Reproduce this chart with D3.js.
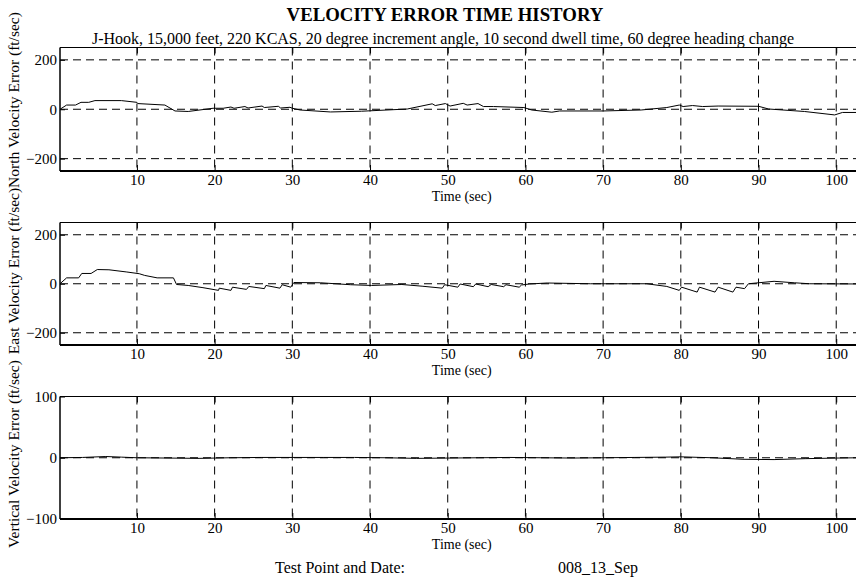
<!DOCTYPE html>
<html>
<head>
<meta charset="utf-8">
<script src="https://cdn.jsdelivr.net/npm/d3@7/dist/d3.min.js"></script>
<style>
  html, body { margin: 0; padding: 0; background: #fff; }
  svg { display: block; font-family: "Liberation Serif", "Times New Roman", serif; }
</style>
</head>
<body>
<svg id="chart" width="856" height="582"></svg>
<script>
// Time axis ticks (sec)
const timeTicks = [10, 20, 30, 40, 50, 60, 70, 80, 90, 100];

// North velocity error (ft/sec) vs time (sec)
const northTime  = [0.1, 0.95, 2.1, 2.8, 3.8, 4.6, 8.0, 10.0, 10.1, 13.6, 14.9, 16.6, 19.8,
  21.1, 22.1, 22.5, 23.9, 24.3, 26.1, 26.4, 28.2, 28.5, 29.7, 30.0, 31.0, 34.9, 38.9, 44.8, 48.0,
  48.4, 49.7, 50.3, 52.0, 52.5, 53.9, 54.6, 55.9, 59.8, 60.8, 63.4, 64.4, 70.0, 74.9, 78.2, 79.8,
  80.3, 81.5, 82.8, 84.8, 90.0, 91.3, 95.9, 99.8, 100.8, 103];
const northError = [0, 17, 17, 28, 28, 35, 35, 28, 23, 17, -7, -9, 4,
  4, 9, 4, 11, 5, 13, 7, 12, 5, 8, 4, -3, -11, -8, 1, 22,
  15, 23, 13, 24, 17, 23, 11, 11, 7, -3, -12, -7, -7, -3, 7, 17,
  11, 15, 11, 13, 12, 1, -9, -23, -13, -13];

// East velocity error (ft/sec) vs time (sec)
const eastTime  = [0.1, 0.95, 2.5, 2.9, 4.1, 4.9, 6.4, 8.7, 10.3, 11.0, 12.6, 14.7, 15.1, 16.6, 18.5, 20.5,
  20.6, 22.1, 22.3, 24.1, 24.4, 26.4, 26.6, 28.4, 28.7, 29.8, 30.2, 33.6, 37.5, 40.2, 44.1, 46.7, 49.3,
  49.6, 51.3, 51.6, 53.3, 53.6, 55.2, 55.6, 57.2, 57.5, 59.2, 59.5, 60.5, 62.8, 68.4, 75.6, 78.2, 79.8,
  80.1, 82.1, 82.4, 84.4, 84.8, 86.7, 87.1, 88.2, 88.7, 90.0, 92.0, 94.6, 96.6, 103];
const eastError = [0, 24, 24, 42, 42, 58, 57, 48, 41, 34, 24, 24, -3, -7, -16, -27,
  -18, -27, -14, -23, -11, -20, -7, -18, -4, -14, 5, 4, -4, -7, -3, -10, -18,
  -4, -14, -1, -12, -1, -12, -3, -12, -4, -14, -5, -1, 3, 0, 0, -11, -27,
  -14, -34, -14, -34, -14, -34, -14, -20, 0, 4, 10, 4, 0, -1];

// Vertical velocity error (ft/sec) vs time (sec)
const vertTime  = [0.1, 3, 6, 8, 10, 14, 18, 22, 26, 30, 34, 38, 42, 46, 50, 54, 58, 62, 66, 70,
  74, 78, 80, 84, 88, 92, 96, 100, 103];
const vertError = [0, 0.5, 2, 1, 0, -0.5, -1, 0, 0.5, 0.5, 0.5, 0.5, 0, -1, -0.5, 0, 0.5, 0, -0.5, 0,
  0.5, 1, 1.5, 0, -2.5, -3, -1.5, -0.5, 0];

const northTicks = [200, 0, -200];
const eastTicks  = [200, 0, -200];
const vertTicks  = [100, 0, -100];

const titleText    = "VELOCITY ERROR TIME HISTORY";
const subtitleText = "J-Hook, 15,000 feet, 220 KCAS, 20 degree increment angle, 10 second dwell time, 60 degree heading change";
const footLabel    = "Test Point and Date:";
const footValue    = "008_13_Sep";

const svg = d3.select("#chart");
const W = 856;

const x = d3.scaleLinear().domain([0.1, 103]).range([60, 60 + 102.9 * 7.77]);

svg.append("text")
  .attr("x", 445).attr("y", 21)
  .attr("text-anchor", "middle")
  .attr("font-weight", "bold")
  .attr("font-size", 18.8)
  .text(titleText);

svg.append("text")
  .attr("x", 443).attr("y", 44)
  .attr("text-anchor", "middle")
  .attr("font-size", 16)
  .text(subtitleText);

const panels = [
  { top: 47.5, bottom: 171, domain: [-250, 250], ticks: northTicks, t: northTime, v: northError,
    label: "North Velocity Error (ft/sec)", labelY: 100 },
  { top: 222.5, bottom: 345, domain: [-250, 250], ticks: eastTicks, t: eastTime, v: eastError,
    label: "East Velocity Error (ft/sec)", labelY: 271 },
  { top: 396.5, bottom: 519, domain: [-100, 100], ticks: vertTicks, t: vertTime, v: vertError,
    label: "Vertical Velocity Error (ft/sec)", labelY: 454 }
];

panels.forEach(p => {
  const y = d3.scaleLinear().domain(p.domain).range([p.bottom, p.top]);
  const g = svg.append("g");

  // dashed grid
  g.append("g").selectAll("line").data(p.ticks.filter(d => d > p.domain[0] && d < p.domain[1]))
    .join("line")
    .attr("x1", 60).attr("x2", W)
    .attr("y1", d => y(d)).attr("y2", d => y(d))
    .attr("stroke", "#000").attr("stroke-width", 1)
    .attr("stroke-dasharray", "8,5");
  g.append("g").selectAll("line").data(timeTicks)
    .join("line")
    .attr("x1", d => x(d)).attr("x2", d => x(d))
    .attr("y1", p.top).attr("y2", p.bottom)
    .attr("stroke", "#000").attr("stroke-width", 1)
    .attr("stroke-dasharray", "8,6");

  // data line
  const pts = p.t.map((t, i) => [t, p.v[i]]);
  g.append("path")
    .datum(pts)
    .attr("fill", "none")
    .attr("stroke", "#000")
    .attr("stroke-width", 1)
    .attr("d", d3.line().x(d => x(d[0])).y(d => y(d[1])));

  // frame: top, left, bottom
  g.append("line").attr("x1", 60).attr("x2", W).attr("y1", p.top).attr("y2", p.top)
    .attr("stroke", "#000").attr("stroke-width", 1.2);
  g.append("line").attr("x1", 60).attr("x2", W).attr("y1", p.bottom).attr("y2", p.bottom)
    .attr("stroke", "#000").attr("stroke-width", 2);
  g.append("line").attr("x1", 60).attr("x2", 60).attr("y1", p.top).attr("y2", p.bottom)
    .attr("stroke", "#000").attr("stroke-width", 1.5);

  // x axis (ticks inward, labels below)
  const xAxis = d3.axisBottom(x).tickValues(timeTicks).tickSize(-6).tickPadding(3.5)
    .tickFormat(d3.format("d"));
  const xa = g.append("g").attr("transform", `translate(0,${p.bottom})`).call(xAxis);
  xa.select(".domain").remove();
  xa.selectAll("text").attr("font-size", 15).attr("font-family", "Liberation Serif");

  // top ticks inward
  const xTop = d3.axisTop(x).tickValues(timeTicks).tickSize(-6).tickFormat("");
  const xt = g.append("g").attr("transform", `translate(0,${p.top})`).call(xTop);
  xt.select(".domain").remove();

  // y axis
  const yAxis = d3.axisLeft(y).tickValues(p.ticks).tickSize(-5).tickPadding(3)
    .tickFormat(d3.format("d"));
  const ya = g.append("g").attr("transform", "translate(60,0)").call(yAxis);
  ya.select(".domain").remove();
  ya.selectAll("text").attr("font-size", 15).attr("font-family", "Liberation Serif");

  g.append("text")
    .attr("x", x(50) + 14).attr("y", p.bottom + 30)
    .attr("text-anchor", "middle")
    .attr("font-size", 14)
    .text("Time (sec)");

  g.append("text")
    .attr("transform", `translate(19,${p.labelY}) rotate(-90)`)
    .attr("text-anchor", "middle")
    .attr("font-size", 15.5)
    .text(p.label);
});

svg.append("text").attr("x", 275).attr("y", 573).attr("font-size", 16).text(footLabel);
svg.append("text").attr("x", 558).attr("y", 573).attr("font-size", 16).text(footValue);
</script>
</body>
</html>
